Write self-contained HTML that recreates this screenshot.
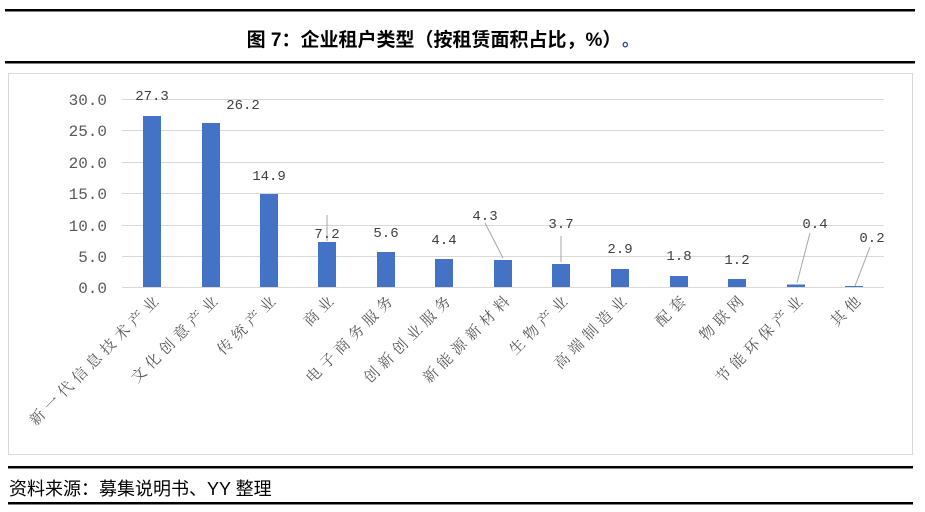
<!DOCTYPE html><html><head><meta charset="utf-8"><style>body{margin:0;background:#fff;width:925px;height:507px;overflow:hidden}</style></head><body>
<svg width="925" height="507" xmlns="http://www.w3.org/2000/svg" font-family="Liberation Sans, Noto Sans CJK SC, sans-serif">
<rect x="5" y="9" width="910" height="2.5" fill="#000"/>
<text x="434" y="46" font-size="19" font-weight="bold" text-anchor="middle" font-family="Liberation Sans, Noto Sans CJK SC, sans-serif">图 7：企业租户类型（按租赁面积占比，%）</text>
<text x="622" y="46" font-size="17" fill="#1f4e9a" font-weight="bold">。</text>
<rect x="5" y="61" width="910" height="2.5" fill="#000"/>
<rect x="8.5" y="73.5" width="904" height="381" fill="none" stroke="#d9d9d9"/>
<g stroke="#d9d9d9" stroke-width="1">
<line x1="122" x2="884" y1="99.5" y2="99.5"/><line x1="122" x2="884" y1="130.5" y2="130.5"/><line x1="122" x2="884" y1="162.5" y2="162.5"/><line x1="122" x2="884" y1="193.5" y2="193.5"/><line x1="122" x2="884" y1="225.5" y2="225.5"/><line x1="122" x2="884" y1="256.5" y2="256.5"/><line x1="122" x2="884" y1="287.5" y2="287.5"/></g>
<g font-size="16" fill="#595959" text-anchor="end" font-family="Liberation Mono, monospace">
<text x="107" y="105">30.0</text><text x="107" y="136">25.0</text><text x="107" y="168">20.0</text><text x="107" y="199">15.0</text><text x="107" y="231">10.0</text><text x="107" y="262">5.0</text><text x="107" y="293">0.0</text></g>
<g fill="#4472c4">
<rect x="143" y="116" width="18" height="171"/><rect x="202" y="123" width="18" height="164"/><rect x="260" y="194" width="18" height="93"/><rect x="318" y="242" width="18" height="45"/><rect x="377" y="252" width="18" height="35"/><rect x="435" y="259" width="18" height="28"/><rect x="494" y="260" width="18" height="27"/><rect x="552" y="264" width="18" height="23"/><rect x="611" y="269" width="18" height="18"/><rect x="670" y="276" width="18" height="11"/><rect x="728" y="279" width="18" height="8"/><rect x="787" y="284.5" width="18" height="2.5"/><rect x="845" y="286" width="18" height="1"/></g>
<g stroke="#a6a6a6" fill="none"><line x1="327" y1="241" x2="327" y2="215"/><path d="M485 223 L503 258"/><line x1="561" y1="262" x2="561" y2="236"/><path d="M810 233 L797 283"/><path d="M870 247 L855 286"/></g>
<g font-size="14" fill="#404040" text-anchor="middle" font-family="Liberation Mono, monospace">
<text x="152" y="100">27.3</text><text x="243" y="109">26.2</text><text x="269" y="180">14.9</text><text x="327" y="238">7.2</text><text x="386" y="237">5.6</text><text x="444" y="244">4.4</text><text x="485" y="220">4.3</text><text x="561" y="228">3.7</text><text x="620" y="253">2.9</text><text x="679" y="260">1.8</text><text x="737" y="264">1.2</text><text x="815" y="228">0.4</text><text x="872" y="242">0.2</text></g>
<g font-size="15" fill="#595959" text-anchor="end" letter-spacing="5" font-family="Noto Serif CJK SC, serif">
<text transform="translate(163,299) rotate(-45)">新一代信息技术产业</text>
<text transform="translate(222,299) rotate(-45)">文化创意产业</text>
<text transform="translate(280,299) rotate(-45)">传统产业</text>
<text transform="translate(338,299) rotate(-45)">商业</text>
<text transform="translate(397,299) rotate(-45)">电子商务服务</text>
<text transform="translate(455,299) rotate(-45)">创新创业服务</text>
<text transform="translate(514,299) rotate(-45)">新能源新材料</text>
<text transform="translate(572,299) rotate(-45)">生物产业</text>
<text transform="translate(631,299) rotate(-45)">高端制造业</text>
<text transform="translate(690,299) rotate(-45)">配套</text>
<text transform="translate(748,299) rotate(-45)">物联网</text>
<text transform="translate(807,299) rotate(-45)">节能环保产业</text>
<text transform="translate(865,299) rotate(-45)">其他</text></g>
<rect x="8" y="466" width="905" height="2.5" fill="#000"/>
<text x="9" y="495" font-size="18">资料来源：募集说明书、YY 整理</text>
<rect x="8" y="502" width="905" height="2.5" fill="#000"/>
</svg></body></html>
